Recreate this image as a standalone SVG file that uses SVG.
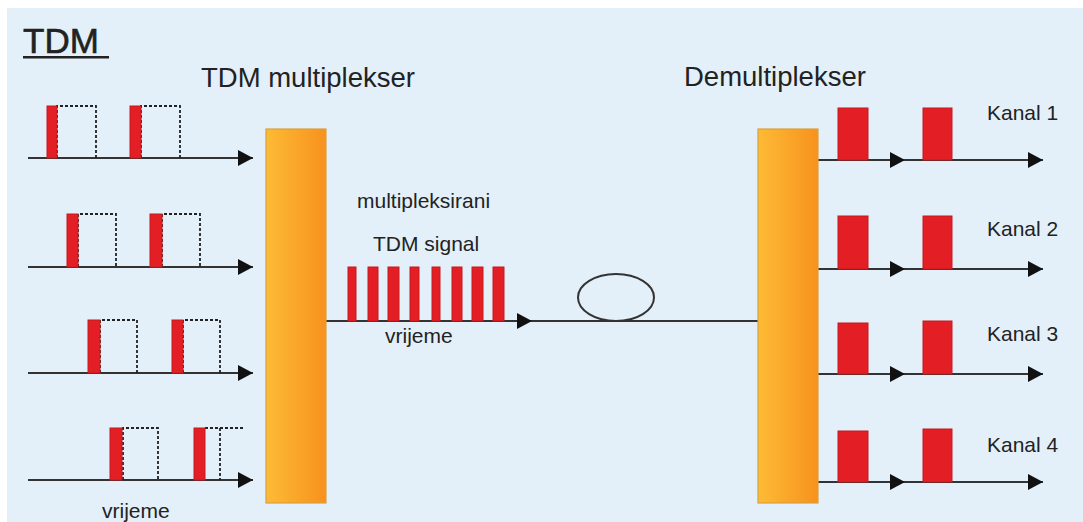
<svg xmlns="http://www.w3.org/2000/svg" width="1083" height="522" viewBox="0 0 1083 522">
<defs>
<style>
text{font-family:"Liberation Sans",Arial,sans-serif;fill:#222}
.ax{stroke:#333;stroke-width:2;fill:none}
.p{fill:#E31E24;stroke:#C41A1E;stroke-width:1}
.d{fill:none;stroke:#222;stroke-width:1.8;stroke-dasharray:3 2}
.box{fill:url(#og);stroke:#D9A040;stroke-width:1.2}
.lbl{font-size:21px}
</style>
<linearGradient id="og" x1="0" y1="0" x2="1" y2="0">
<stop offset="0" stop-color="#FDBB35"/>
<stop offset="1" stop-color="#F7921E"/>
</linearGradient>
<marker id="ah" markerUnits="userSpaceOnUse" markerWidth="16" markerHeight="17" refX="15" refY="8" orient="auto">
<path d="M0,0 L15,8 L0,16 Z" fill="#111"/>
</marker>
</defs>
<rect x="0" y="0" width="1083" height="522" fill="#fff"/>
<rect x="7" y="8" width="1076" height="514" fill="#E3F0F9"/>

<g id="title">
<text x="23" y="53" style="font-size:35px;stroke:#222;stroke-width:0.6">TDM</text>
<rect x="23" y="56" width="86" height="2.5" fill="#222"/>
</g>
<text id="lbl-mux" x="201" y="87" style="font-size:27.5px">TDM multiplekser</text>
<text id="lbl-demux" x="684" y="86" style="font-size:27.5px">Demultiplekser</text>

<g id="connectors">
<line class="ax" x1="28" y1="158" x2="253" y2="158" marker-end="url(#ah)"/>
<line class="ax" x1="28" y1="267" x2="253" y2="267" marker-end="url(#ah)"/>
<line class="ax" x1="28" y1="373" x2="253" y2="373" marker-end="url(#ah)"/>
<line class="ax" x1="28" y1="480" x2="253" y2="480" marker-end="url(#ah)"/>
<line class="ax" x1="326" y1="321" x2="532" y2="321" marker-end="url(#ah)"/>
<line class="ax" x1="532" y1="321" x2="758" y2="321"/>
<line class="ax" x1="818" y1="160" x2="905" y2="160" marker-end="url(#ah)"/>
<line class="ax" x1="905" y1="160" x2="1043" y2="160" marker-end="url(#ah)"/>
<line class="ax" x1="818" y1="269" x2="905" y2="269" marker-end="url(#ah)"/>
<line class="ax" x1="905" y1="269" x2="1043" y2="269" marker-end="url(#ah)"/>
<line class="ax" x1="818" y1="374" x2="905" y2="374" marker-end="url(#ah)"/>
<line class="ax" x1="905" y1="374" x2="1043" y2="374" marker-end="url(#ah)"/>
<line class="ax" x1="818" y1="482" x2="905" y2="482" marker-end="url(#ah)"/>
<line class="ax" x1="905" y1="482" x2="1043" y2="482" marker-end="url(#ah)"/>
</g>

<g id="input-1">
<path class="d" d="M57,158 V106 H96 V158"/>
<rect class="p" x="47" y="106" width="10" height="52"/>
<path class="d" d="M141,158 V106 H180 V158"/>
<rect class="p" x="130" y="106" width="11" height="52"/>
</g>
<g id="input-2">
<path class="d" d="M78,267 V214 H116 V267"/>
<rect class="p" x="67" y="214" width="11" height="53"/>
<path class="d" d="M162,267 V214 H200 V267"/>
<rect class="p" x="150" y="214" width="12" height="53"/>
</g>
<g id="input-3">
<path class="d" d="M100,373 V320 H137 V373"/>
<rect class="p" x="88" y="320" width="12" height="53"/>
<path class="d" d="M183,373 V320 H220 V373"/>
<rect class="p" x="172" y="320" width="11" height="53"/>
</g>
<g id="input-4">
<path class="d" d="M123,480 V428 H158 V480"/>
<rect class="p" x="110" y="428" width="12" height="52"/>
<path class="d" d="M205,428 H243 M220,428 V480"/>
<rect class="p" x="194" y="428" width="11" height="52"/>
</g>
<text id="lbl-time-in" class="lbl" x="102" y="518">vrijeme</text>

<g id="mux"><rect class="box" x="266" y="129" width="60" height="374"/></g>
<g id="demux"><rect class="box" x="758" y="129" width="60" height="374"/></g>

<g id="tdm-signal">
<rect class="p" x="348" y="267" width="8" height="54"/>
<rect class="p" x="368" y="267" width="10" height="54"/>
<rect class="p" x="388" y="267" width="11" height="54"/>
<rect class="p" x="410" y="267" width="9" height="54"/>
<rect class="p" x="432" y="267" width="8" height="54"/>
<rect class="p" x="452" y="267" width="10" height="54"/>
<rect class="p" x="472" y="267" width="11" height="54"/>
<rect class="p" x="493" y="267" width="11" height="54"/>
<text class="lbl" x="357" y="208">multipleksirani</text>
<text class="lbl" x="373" y="251">TDM signal</text>
<text class="lbl" x="385" y="343">vrijeme</text>
</g>

<g id="fiber"><ellipse cx="616" cy="297.5" rx="38" ry="23.5" fill="none" stroke="#333" stroke-width="2"/></g>

<g id="kanal-1">
<rect class="p" x="838" y="108" width="30" height="52"/>
<rect class="p" x="923" y="108" width="29" height="52"/>
<text class="lbl" x="987" y="120">Kanal 1</text>
</g>
<g id="kanal-2">
<rect class="p" x="838" y="216" width="30" height="53"/>
<rect class="p" x="923" y="216" width="29" height="53"/>
<text class="lbl" x="987" y="236">Kanal 2</text>
</g>
<g id="kanal-3">
<rect class="p" x="838" y="323" width="30" height="51"/>
<rect class="p" x="923" y="321" width="29" height="53"/>
<text class="lbl" x="987" y="341">Kanal 3</text>
</g>
<g id="kanal-4">
<rect class="p" x="838" y="431" width="30" height="51"/>
<rect class="p" x="923" y="429" width="29" height="53"/>
<text class="lbl" x="987" y="452">Kanal 4</text>
</g>
</svg>
